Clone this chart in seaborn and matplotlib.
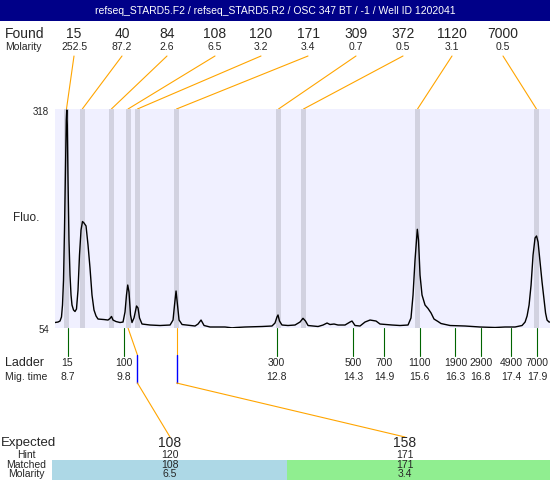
import matplotlib
matplotlib.use("Agg")
import matplotlib.pyplot as plt
import seaborn as sns
import pandas as pd
import numpy as np
from matplotlib.patches import Rectangle

# ---------------- data ----------------
title = "refseq_STARD5.F2 / refseq_STARD5.R2 / OSC 347 BT / -1 / Well ID 1202041"

found_sizes = [15, 40, 84, 108, 120, 171, 309, 372, 1120, 7000]
found_molarity = ["252.5", "87.2", "2.6", "6.5", "3.2", "3.4", "0.7", "0.5", "3.1", "0.5"]
found_times = [8.68, 8.99, 9.56, 9.886, 10.07, 10.836, 12.835, 13.325, 15.559, 17.89]

ladder_sizes = [15, 100, 300, 500, 700, 1100, 1900, 2900, 4900, 7000]
ladder_times = [8.7, 9.8, 12.8, 14.3, 14.9, 15.6, 16.3, 16.8, 17.4, 17.9]

expected = [108, 158]
hint = [120, 171]
matched = [108, 171]
matched_molarity = ["6.5", "3.4"]

y_min, y_max = 54, 318

trace_time = [8.455, 8.514, 8.553, 8.582, 8.602, 8.622, 8.641, 8.661, 8.676, 8.686,
              8.696, 8.710, 8.729, 8.749, 8.769, 8.788, 8.818, 8.847, 8.876, 8.906,
              8.935, 8.965, 8.994, 9.023, 9.063, 9.102, 9.141, 9.180, 9.219, 9.259,
              9.298, 9.415, 9.494, 9.533, 9.562, 9.592, 9.650, 9.729, 9.788, 9.827,
              9.856, 9.880, 9.905, 9.935, 9.964, 10.003, 10.053, 10.082, 10.111, 10.160,
              10.317, 10.514, 10.710, 10.768, 10.797, 10.827, 10.856, 10.886, 10.945, 11.199,
              11.258, 11.317, 11.376, 11.493, 11.787, 11.924, 12.002, 12.178, 12.511, 12.707,
              12.766, 12.805, 12.825, 12.854, 12.903, 13.021, 13.158, 13.256, 13.315, 13.364,
              13.414, 13.610, 13.708, 13.786, 13.844, 13.923, 14.001, 14.138, 14.236, 14.275,
              14.334, 14.432, 14.530, 14.628, 14.746, 14.824, 14.942, 15.059, 15.216, 15.373,
              15.431, 15.471, 15.510, 15.555, 15.578, 15.608, 15.647, 15.706, 15.765, 15.824,
              15.882, 15.961, 16.019, 16.196, 16.490, 16.784, 17.078, 17.274, 17.470, 17.607,
              17.667, 17.706, 17.745, 17.784, 17.823, 17.862, 17.891, 17.921, 17.960, 17.999,
              18.038, 18.068, 18.097, 18.136, 18.155]
trace_fluo = [60.6, 61.2, 62.4, 67.3, 81.7, 111.9, 172.1, 244.5, 304.7, 316.8,
              298.7, 232.4, 160.1, 117.9, 93.8, 81.7, 75.7, 73.9, 76.9, 99.8,
              142.0, 172.1, 182.4, 180.6, 177.0, 154.1, 126.3, 93.8, 75.7, 68.5,
              64.8, 64.2, 63.6, 65.5, 67.9, 63.6, 61.8, 60.6, 61.2, 73.3,
              93.8, 105.8, 97.4, 69.7, 60.6, 66.1, 80.5, 78.1, 66.1, 58.8,
              57.6, 57.0, 57.6, 63.6, 81.7, 98.6, 81.7, 63.6, 58.2, 56.4,
              58.8, 63.6, 57.0, 55.2, 55.2, 54.2, 54.6, 55.2, 55.8, 56.4,
              60.0, 67.3, 69.7, 62.4, 57.6, 57.0, 57.6, 61.2, 65.7, 62.4,
              57.0, 55.8, 57.6, 60.0, 58.2, 58.8, 57.6, 57.6, 61.2, 62.4,
              57.0, 56.4, 61.2, 63.6, 62.4, 58.8, 58.2, 57.6, 57.0, 57.6,
              66.1, 93.8, 136.0, 173.0, 160.1, 117.9, 93.8, 81.7, 77.5, 72.1,
              64.8, 61.8, 59.4, 57.0, 56.4, 55.2, 54.6, 55.2, 55.2, 57.0,
              61.2, 68.5, 81.7, 105.8, 142.0, 162.5, 164.9, 157.7, 133.6, 109.5,
              87.8, 72.1, 63.6, 61.2, 61.2]

# ---------------- style ----------------
sns.set_style("white")
plt.rcParams["font.family"] = ["Liberation Sans", "DejaVu Sans"]

W, H = 550, 480
fig = plt.figure(figsize=(5.5, 4.8), dpi=100)
fig.patch.set_facecolor("white")

# overlay in pixel coordinates
ov = fig.add_axes([0, 0, 1, 1])
ov.set_xlim(0, W)
ov.set_ylim(H, 0)
ov.axis("off")

# main trace axes
px_l, px_r, px_t, px_b = 55, 550, 109, 328
ax = fig.add_axes([px_l / W, 1 - px_b / H, (px_r - px_l) / W, (px_b - px_t) / H])
ax.set_xlim(8.455, 18.155)
ax.set_ylim(y_min, y_max)
ax.set_facecolor("#f0f0ff")
for s in ax.spines.values():
    s.set_visible(False)

band_w = 0.049
for t in found_times:
    ax.axvspan(t - band_w, t + band_w, color="#d2d2e0", lw=0, zorder=1)

df = pd.DataFrame({"time": trace_time, "fluo": trace_fluo})
sns.lineplot(data=df, x="time", y="fluo", ax=ax, color="black", lw=1.0, zorder=3)
ax.set_xticks([])
ax.set_yticks([])
ax.set_xlabel("")
ax.set_ylabel("")


def tx(t):
    p = ax.transData.transform((t, y_min))
    return ov.transData.inverted().transform(p)[0]


# title bar
ov.add_patch(Rectangle((0, 0), W, 21, color="#000088", lw=0))
ov.text(W / 2, 11, title, color="white", ha="center", va="center", fontsize=7.5)

# found header
ov.text(5, 34, "Found", ha="left", va="center", fontsize=10)
ov.text(5, 47, "Molarity", ha="left", va="center", fontsize=7.5)
found_label_x = [74, 122, 167, 215, 261, 308, 356, 403, 452, 503]
for lx, s, m, t in zip(found_label_x, found_sizes, found_molarity, found_times):
    ov.text(lx, 34, str(s), ha="center", va="center", fontsize=10)
    ov.text(lx, 47, m, ha="center", va="center", fontsize=7.5)
    ov.plot([lx, tx(t)], [56, px_t], color="orange", lw=0.8)

# y labels
ov.text(49, 112, str(y_max), ha="right", va="center", fontsize=7)
ov.text(49, 330, str(y_min), ha="right", va="center", fontsize=7)
ov.text(26, 218, "Fluo.", ha="center", va="center", fontsize=8.5)

# ladder
ov.text(5, 363, "Ladder", ha="left", va="center", fontsize=9)
ov.text(5, 377, "Mig. time", ha="left", va="center", fontsize=7.5)
for s, t in zip(ladder_sizes, ladder_times):
    x = tx(t)
    ov.plot([x, x], [px_b, 356], color="#006400", lw=0.8)
    ov.text(x, 363, str(s), ha="center", va="center", fontsize=7.5)
    ov.text(x, 377, f"{t:.1f}", ha="center", va="center", fontsize=7.5)

# expected connectors
size_to_time = dict(zip(found_sizes, found_times))
expected_x = [170, 405]
for ex, e, h, m in zip(expected_x, expected, hint, matched):
    xm = tx(size_to_time[m])
    xh = tx(size_to_time[h])
    ov.plot([xm, xh], [px_b, 355], color="orange", lw=0.8)
    ov.plot([xh, xh], [355, 383], color="#0000ff", lw=1.0)
    ov.plot([xh, ex], [383, 437], color="orange", lw=0.8)

# bottom table
ov.add_patch(Rectangle((52, 460), 287 - 52, 20, color="#add8e6", lw=0))
ov.add_patch(Rectangle((287, 460), W - 287, 20, color="#90ee90", lw=0))
ov.text(1, 443, "Expected", ha="left", va="center", fontsize=9.5)
ov.text(26, 455, "Hint", ha="center", va="center", fontsize=7.5)
ov.text(26, 465, "Matched", ha="center", va="center", fontsize=7.5)
ov.text(26, 474, "Molarity", ha="center", va="center", fontsize=7.5)
for ex, e, h, m, mm in zip(expected_x, expected, hint, matched, matched_molarity):
    ov.text(ex, 443, str(e), ha="center", va="center", fontsize=10)
    ov.text(ex, 455, str(h), ha="center", va="center", fontsize=7.5)
    ov.text(ex, 465, str(m), ha="center", va="center", fontsize=7.5)
    ov.text(ex, 474, mm, ha="center", va="center", fontsize=7.5)

fig.savefig("out.png", dpi=100)
